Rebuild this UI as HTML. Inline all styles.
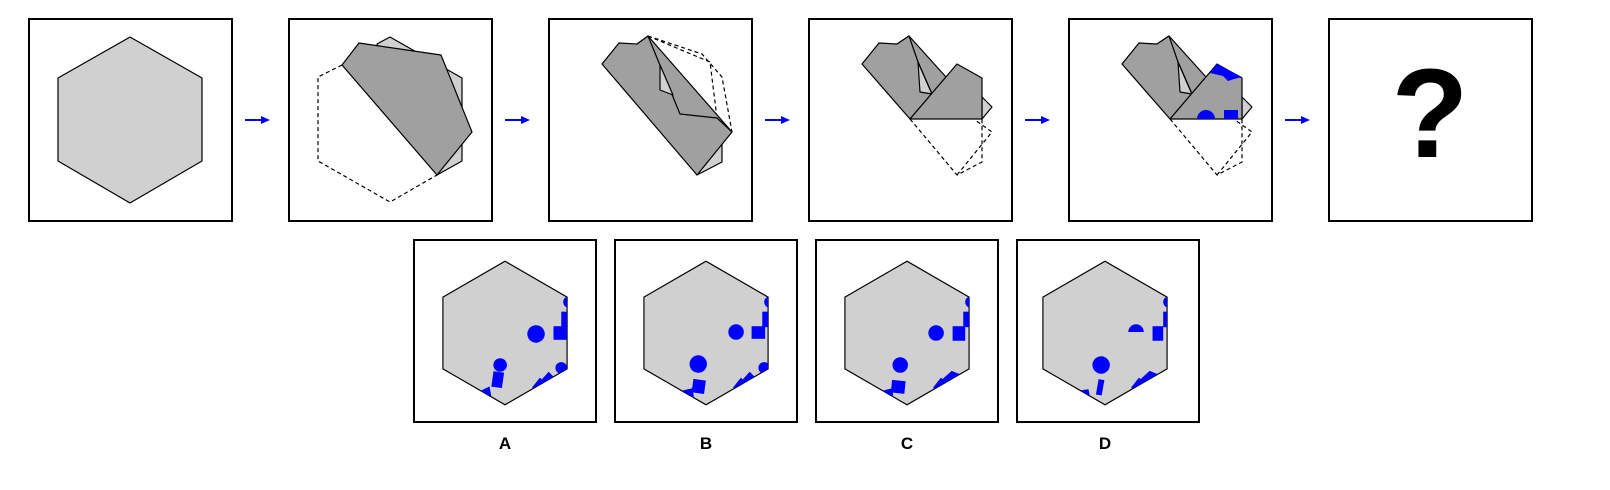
<!DOCTYPE html>
<html><head><meta charset="utf-8"><style>
html,body{margin:0;padding:0;background:#fff}
svg{display:block}
text{font-family:"Liberation Sans",sans-serif;font-weight:bold}
</style></head><body>
<svg width="1610" height="490" viewBox="0 0 1610 490">
<defs>
<clipPath id="hexA"><polygon points="441,292 505,255 569,292 569,366 505,403 441,366"/></clipPath>
<clipPath id="hexB"><polygon points="642,292 706,255 770,292 770,366 706,403 642,366"/></clipPath>
<clipPath id="hexC"><polygon points="843,292 907,255 971,292 971,366 907,403 843,366"/></clipPath>
<clipPath id="hexD"><polygon points="1041,292 1105,255 1169,292 1169,366 1105,403 1041,366"/></clipPath>
<g id="arrow"><line x1="0" y1="0" x2="18" y2="0" stroke="#00f" stroke-width="2"/><polygon points="16,-4 25,0 16,4" fill="#00f"/></g>
</defs>
<g fill="none" stroke="#000" stroke-width="2">
<rect x="29" y="19" width="203" height="202"/>
<rect x="289" y="19" width="203" height="202"/>
<rect x="549" y="19" width="203" height="202"/>
<rect x="809" y="19" width="203" height="202"/>
<rect x="1069" y="19" width="203" height="202"/>
<rect x="1329" y="19" width="203" height="202"/>
</g>
<use href="#arrow" x="245" y="120"/>
<use href="#arrow" x="505" y="120"/>
<use href="#arrow" x="765" y="120"/>
<use href="#arrow" x="1025" y="120"/>
<use href="#arrow" x="1285" y="120"/>

<g stroke="#000" stroke-width="1.2" stroke-linejoin="round">
<polygon points="130,37 202,78 202,161 130,203 58,161 58,78" fill="#d0d0d0"/>
<g>
<polyline points="342,65 318,77 318,161 390,202 437,175" fill="none" stroke-dasharray="4,3"/>
<polygon points="377,44 390,37 462,78 462,161 437,175" fill="#d0d0d0"/>
<polygon points="342,65 359,43 441,55 472,132 437,175" fill="#a0a0a0"/>
</g>
<g>
<polyline points="648,36 702,54 722,77 732,132" fill="none" stroke-dasharray="4,3"/>
<polyline points="648,36 710,62 717,118" fill="none" stroke-dasharray="4,3"/>
<polygon points="637,44 648,36 652,46" fill="#d0d0d0"/>
<polygon points="697,175 722,162 722,143" fill="#d0d0d0"/>
<polygon points="602,64 619,43 637,44 648,36 732,132 697,175" fill="#a0a0a0"/>
<polyline points="648,36 680,114 717,118 732,132" fill="none"/>
<polygon points="660,65 660,90 673,95" fill="#d0d0d0"/>
</g>
<g>
<polyline points="910,119 957,175 982,162 982,119" fill="none" stroke-dasharray="4,3"/>
<polyline points="957,175 992,132 975,120" fill="none" stroke-dasharray="4,3"/>
<polygon points="897,44 909,36 913,47" fill="#d0d0d0"/>
<polygon points="862,64 879,43 897,44 909,36 946,77 910,119" fill="#a0a0a0"/>
<polygon points="918,62 920,92 932,94" fill="#d0d0d0"/>
<polyline points="909,36 918,62 932,94" fill="none"/>
<polygon points="982,97 992,107 982,119" fill="#d0d0d0"/>
<polygon points="910,119 957,64 982,78 982,119" fill="#a0a0a0"/>
</g>
<g>
<polyline points="1170,119 1217,175 1242,162 1242,119" fill="none" stroke-dasharray="4,3"/>
<polyline points="1217,175 1252,132 1235,120" fill="none" stroke-dasharray="4,3"/>
<polygon points="1157,44 1169,36 1173,47" fill="#d0d0d0"/>
<polygon points="1122,64 1139,43 1157,44 1169,36 1206,77 1170,119" fill="#a0a0a0"/>
<polygon points="1178,62 1180,92 1192,94" fill="#d0d0d0"/>
<polyline points="1169,36 1178,62 1192,94" fill="none"/>
<polygon points="1242,97 1252,107 1242,119" fill="#d0d0d0"/>
<polygon points="1170,119 1217,64 1242,78 1242,119" fill="#a0a0a0"/>
</g>
</g>
<g fill="#00f">
<polygon points="1210,73 1217,64 1242,77 1234,79 1228,81 1223,76"/>
<path d="M1197,119 A9,9 0 0 1 1215,119 Z"/>
<rect x="1224" y="110" width="14" height="9"/>
</g>
<text x="1430" y="157" font-size="126" text-anchor="middle">?</text>

<g>
<rect x="414" y="240" width="182" height="182" fill="#fff" stroke="#000" stroke-width="2"/>
<g transform="translate(505,333) scale(0.97) translate(-505,-329)">
<polygon points="441,292 505,255 569,292 569,366 505,403 441,366" fill="#d0d0d0" stroke="#000" stroke-width="1.2"/>
<g clip-path="url(#hexA)" fill="#00f">
<circle cx="537" cy="330" r="9"/><rect x="555" y="322" width="14" height="14"/><rect x="563" y="307" width="8" height="16"/>
<circle cx="571" cy="297" r="6"/><circle cx="563" cy="365" r="6"/>
<polygon points="541,379 550,369 558,377 545,386"/><polygon points="533,385 541,375 547,381 535,390"/>
<circle cx="500" cy="362" r="7"/><rect x="492" y="369" width="11" height="16" transform="rotate(8 497 377)"/>
<polygon points="479,389 489,384 491,395 484,400"/>
</g></g>
<text x="505" y="449" font-size="17" text-anchor="middle">A</text>
</g>
<g>
<rect x="615" y="240" width="182" height="182" fill="#fff" stroke="#000" stroke-width="2"/>
<g transform="translate(706,333) scale(0.97) translate(-706,-329)">
<polygon points="642,292 706,255 770,292 770,366 706,403 642,366" fill="#d0d0d0" stroke="#000" stroke-width="1.2"/>
<g clip-path="url(#hexB)" fill="#00f">
<circle cx="737" cy="328" r="8"/><rect x="753" y="322" width="14" height="13"/><rect x="764" y="307" width="8" height="16"/>
<circle cx="772" cy="297" r="6"/><circle cx="766" cy="365" r="6"/>
<polygon points="742,379 751,369 759,377 746,386"/><polygon points="734,385 742,375 748,381 736,390"/>
<circle cx="698" cy="361" r="9"/><rect x="692" y="377" width="13" height="14" transform="rotate(8 698 384)"/>
<polygon points="678,389 692,386 694,398 686,402"/>
</g></g>
<text x="706" y="449" font-size="17" text-anchor="middle">B</text>
</g>
<g>
<rect x="816" y="240" width="182" height="182" fill="#fff" stroke="#000" stroke-width="2"/>
<g transform="translate(907,333) scale(0.97) translate(-907,-329)">
<polygon points="843,292 907,255 971,292 971,366 907,403 843,366" fill="#d0d0d0" stroke="#000" stroke-width="1.2"/>
<g clip-path="url(#hexC)" fill="#00f">
<circle cx="937" cy="329" r="8"/><rect x="954" y="322" width="13" height="15"/><rect x="965" y="307" width="8" height="16"/>
<circle cx="973" cy="297" r="6"/>
<polygon points="942,378 953,368 963,372 968,370 945,386"/><polygon points="934,385 942,375 948,381 936,390"/>
<circle cx="900" cy="362" r="8"/><rect x="891" y="378" width="14" height="13" transform="rotate(6 898 384)"/>
<polygon points="879,389 892,386 893,397 886,400"/>
</g></g>
<text x="907" y="449" font-size="17" text-anchor="middle">C</text>
</g>
<g>
<rect x="1017" y="240" width="182" height="182" fill="#fff" stroke="#000" stroke-width="2"/>
<g transform="translate(1105,333) scale(0.97) translate(-1105,-329)">
<polygon points="1041,292 1105,255 1169,292 1169,366 1105,403 1041,366" fill="#d0d0d0" stroke="#000" stroke-width="1.2"/>
<g clip-path="url(#hexD)" fill="#00f">
<path d="M1129,328 A8,8 0 0 1 1145,328 Z"/><rect x="1154" y="322" width="11" height="15"/><rect x="1165" y="307" width="8" height="16"/>
<circle cx="1171" cy="297" r="6"/>
<polygon points="1140,378 1151,368 1161,372 1166,370 1143,386"/><polygon points="1132,385 1140,375 1146,381 1134,390"/>
<circle cx="1101" cy="362" r="9"/><rect x="1097" y="377" width="6" height="16" transform="rotate(10 1100 385)"/>
<polygon points="1080,388 1088,387 1090,398 1084,399"/>
</g></g>
<text x="1105" y="449" font-size="17" text-anchor="middle">D</text>
</g>
</svg>
</body></html>
